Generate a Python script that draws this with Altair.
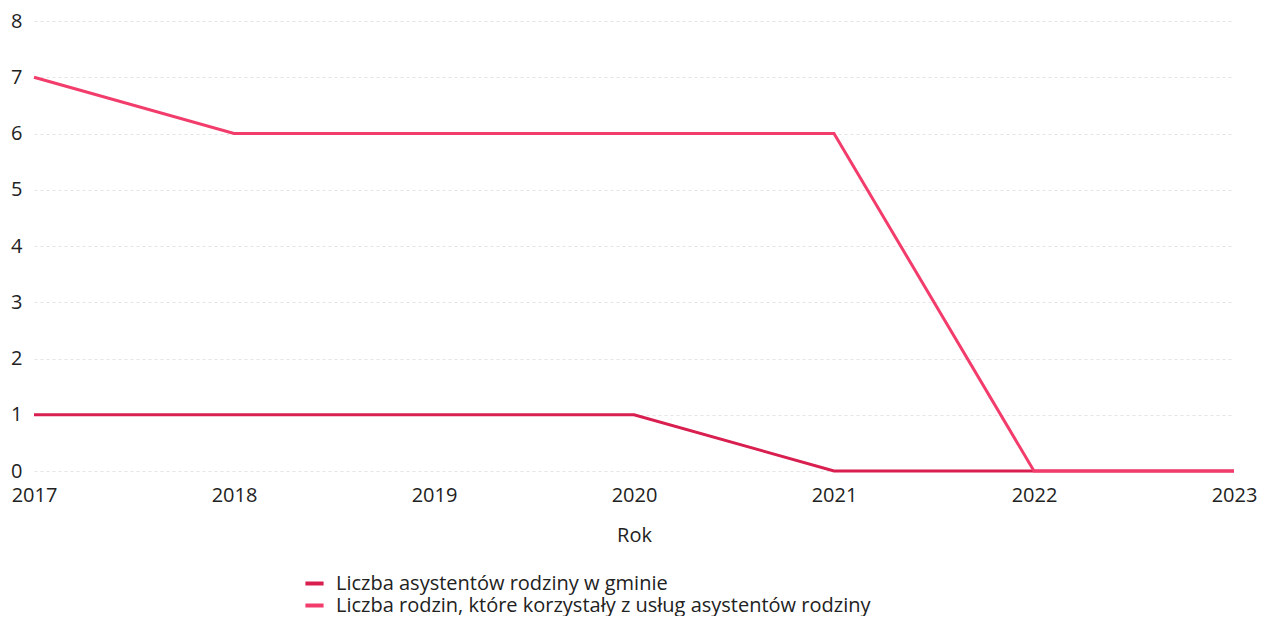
import altair as alt
import pandas as pd

years = [2017, 2018, 2019, 2020, 2021, 2022, 2023]
series_names = ["Liczba asystentów rodziny w gminie",
                "Liczba rodzin, które korzystały z usług asystentów rodziny"]
asystenci = [1, 1, 1, 1, 0, 0, 0]
rodziny = [7, 6, 6, 6, 6, 0, 0]
colors = ["#d81f4f", "#f23d6c"]

rows = []
for y, v in zip(years, asystenci):
    rows.append({"Rok": y, "Wartość": v, "Seria": series_names[0]})
for y, v in zip(years, rodziny):
    rows.append({"Rok": y, "Wartość": v, "Seria": series_names[1]})
df = pd.DataFrame(rows)

font = "Open Sans"

chart = alt.Chart(df).mark_line(strokeWidth=3).encode(
    x=alt.X("Rok:Q",
            scale=alt.Scale(domain=[2017, 2023], nice=False, zero=False),
            axis=alt.Axis(values=years, format="d", title="Rok", grid=False,
                          domain=False, ticks=False, labelPadding=14,
                          labelFontSize=20, labelColor="#222",
                          titleFontSize=20, titleFontWeight="normal",
                          titleColor="#222", titlePadding=20,
                          labelFont=font, titleFont=font,
                          labelFlush=False)),
    y=alt.Y("Wartość:Q",
            scale=alt.Scale(domain=[0, 8], nice=False),
            axis=alt.Axis(values=list(range(0, 9)), title=None, grid=True,
                          gridColor="#e4e4e4", gridDash=[3, 3], gridWidth=1,
                          domain=False, ticks=False, labelPadding=12,
                          labelFontSize=20, labelColor="#222",
                          labelFont=font)),
    color=alt.Color("Seria:N",
                    scale=alt.Scale(domain=series_names, range=colors),
                    legend=alt.Legend(title=None, orient="none",
                                      legendX=269, legendY=551,
                                      direction="vertical",
                                      symbolType="stroke", symbolStrokeWidth=4,
                                      symbolSize=330, labelOffset=10,
                                      labelFontSize=20, labelColor="#222",
                                      labelFont=font, labelLimit=0,
                                      rowPadding=0)),
).properties(
    width=1200, height=450
).configure(
    padding={"left": 2, "top": 3, "right": 0, "bottom": 0}
).configure_view(stroke=None)

chart.save("out.html", embed_options={"renderer": "svg", "actions": False})
